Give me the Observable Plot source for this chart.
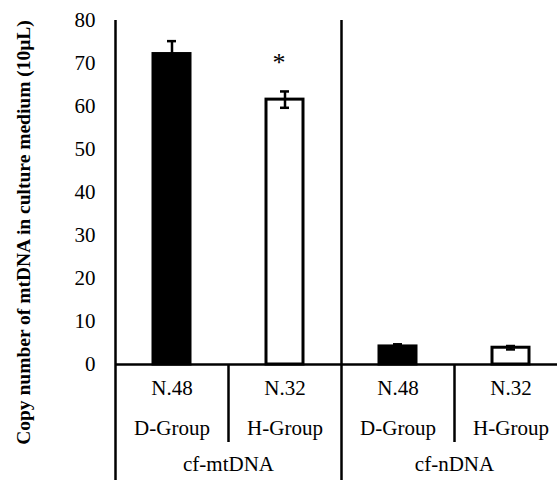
<!DOCTYPE html>
<html>
<head>
<meta charset="utf-8">
<script src="https://cdn.jsdelivr.net/npm/d3@7"></script>
<script src="https://cdn.jsdelivr.net/npm/@observablehq/plot@0.6"></script>
<style>
  html, body { margin: 0; padding: 0; background: white; }
  #chart svg, #chart svg text { font-family: "Liberation Serif", "Times New Roman", serif !important; }
</style>
</head>
<body>
<div id="chart"></div>
<script>
// ---- data ----
const dnaTypes = ["cf-mtDNA", "cf-mtDNA", "cf-nDNA", "cf-nDNA"];
const groups = ["D-Group", "H-Group", "D-Group", "H-Group"];
const sampleSizes = ["N.48", "N.32", "N.48", "N.32"];
const means = [72.2, 61.6, 4.2, 3.9];
const errors = [3.0, 1.9, 0.5, 0.4];
const barFills = ["black", "white", "black", "white"];
const significance = ["", "*", "", ""];
const yTicks = [0, 10, 20, 30, 40, 50, 60, 70, 80];
const yTitle = "Copy number of mtDNA in culture medium (10μL)";

// ---- build rows ----
const keys = dnaTypes.map((t, i) => t + " " + groups[i]);
const rows = keys.map((k, i) => ({
  key: k, type: dnaTypes[i], group: groups[i], n: sampleSizes[i],
  mean: means[i], err: errors[i], fill: barFills[i], sig: significance[i]
}));
const typeLabels = [...new Set(dnaTypes)].map(t => ({
  type: t,
  key: keys[dnaTypes.indexOf(t) + 1]   // second bar of each pair; label sits at its left edge
}));

const W = 557, H = 480, mL = 115, mT = 20, mB = 116;
const step = 113;            // width of one category slot
const half = step / 2;
const frameH = H - mT - mB;

const plot = Plot.plot({
  width: W, height: H,
  marginLeft: mL, marginRight: 0, marginTop: mT, marginBottom: mB,
  style: {fontFamily: "'Liberation Serif', 'Times New Roman', serif", fontSize: "21px", color: "black", background: "white"},
  x: {domain: keys, range: [mL, mL + step * keys.length], paddingInner: 0.67, paddingOuter: 0.335, axis: null},
  y: {domain: [0, 80], axis: null},
  color: {type: "identity"},
  marks: [
    Plot.axisY({ticks: yTicks, tickSize: 0, tickPadding: 20, label: null, fontSize: 21}),
    Plot.barY(rows, {x: "key", y: "mean", fill: "fill", stroke: "black", strokeWidth: 3}),
    Plot.ruleX(rows, {x: "key", y1: d => d.mean - d.err, y2: d => d.mean + d.err, stroke: "black", strokeWidth: 2.5}),
    Plot.tickY(rows, {x: "key", y: d => d.mean + d.err, stroke: "black", strokeWidth: 2.5, insetLeft: 14, insetRight: 14}),
    Plot.tickY(rows, {x: "key", y: d => d.mean - d.err, stroke: "black", strokeWidth: 2.5, insetLeft: 14, insetRight: 14}),
    Plot.text(rows, {x: "key", y: d => d.mean + d.err, text: "sig", fontSize: 26, dx: -6, dy: -29}),
    // axis lines
    Plot.ruleY([0], {stroke: "black", strokeWidth: 2.5}),
    Plot.ruleX([keys[0], keys[2]], {x: d => d, dx: -half, stroke: "black", strokeWidth: 2.5, insetBottom: -mB}),
    Plot.ruleX([keys[1], keys[3]], {x: d => d, dx: -half, stroke: "black", strokeWidth: 2.5, insetTop: frameH, insetBottom: -78}),
    // category labels
    Plot.text(rows, {x: "key", text: "n", frameAnchor: "bottom", dy: 30}),
    Plot.text(rows, {x: "key", text: "group", frameAnchor: "bottom", dy: 70}),
    Plot.text(typeLabels, {x: "key", text: "type", frameAnchor: "bottom", dx: -half, dy: 106}),
    // y title
    Plot.text([yTitle], {frameAnchor: "left", textAnchor: "middle", rotate: -90, dx: -92, dy: 40, fontWeight: "bold", fontSize: 19.5})
  ]
});
document.getElementById("chart").appendChild(plot);
</script>
</body>
</html>
